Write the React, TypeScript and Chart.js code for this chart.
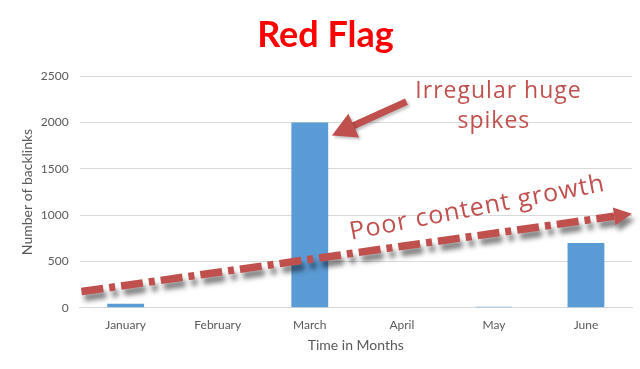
import React, { useEffect, useRef } from 'react';
import { Chart, registerables } from 'chart.js';

Chart.register(...registerables);

const months = ['January', 'February', 'March', 'April', 'May', 'June'];
const backlinks = [45, 0, 2000, 0, 12, 700];
const yMax = 2500;
const yStep = 500;
const chartTitle = 'Red Flag';
const xTitle = 'Time in Months';
const yTitle = 'Number of backlinks';
const spikeNoteLines = ['Irregular huge', 'spikes'];
const growthNote = 'Poor content growth';

// annotation anchors in data units: [category index, value]
const trendFrom = [-0.48, 175];
const trendTo = [5.5, 1015];
const spikeArrowFrom = [3.05, 2225];
const spikeArrowTo = [2.24, 1860];
const spikeNoteAt = [4.05, 2330];
const spikeNoteLine2At = [4.0, 2010];
const growthNoteAt = [3.82, 1075];

const NOTE_COLOR = '#C0504D';

const annotationPlugin = {
  id: 'redFlagNotes',
  afterDatasetsDraw(chart: any) {
    const { ctx } = chart;
    const xs = chart.scales.x;
    const ys = chart.scales.y;
    const px = (p: number[]) => [xs.getPixelForValue(p[0]), ys.getPixelForValue(p[1])];

    ctx.save();
    // trend line (dash-dot) with shadow
    const [x1, y1] = px(trendFrom);
    const [x2, y2] = px(trendTo);
    const ang = Math.atan2(y2 - y1, x2 - x1);
    const headLen = 18;
    const lx = x2 - Math.cos(ang) * headLen;
    const ly = y2 - Math.sin(ang) * headLen;
    ctx.shadowColor = 'rgba(0,0,0,0.5)';
    ctx.shadowBlur = 5;
    ctx.shadowOffsetX = 3;
    ctx.shadowOffsetY = 6;
    ctx.strokeStyle = NOTE_COLOR;
    ctx.lineWidth = 7.5;
    ctx.setLineDash([22, 6, 6, 6]);
    ctx.beginPath();
    ctx.moveTo(x1, y1);
    ctx.lineTo(lx, ly);
    ctx.stroke();
    ctx.setLineDash([]);
    // arrow head
    const hw = 9;
    ctx.fillStyle = NOTE_COLOR;
    ctx.beginPath();
    ctx.moveTo(x2, y2);
    ctx.lineTo(lx + Math.sin(ang) * hw, ly - Math.cos(ang) * hw);
    ctx.lineTo(lx - Math.sin(ang) * hw, ly + Math.cos(ang) * hw);
    ctx.closePath();
    ctx.fill();

    // spike arrow
    const [a1, b1] = px(spikeArrowFrom);
    const [a2, b2] = px(spikeArrowTo);
    const ang2 = Math.atan2(b2 - b1, a2 - a1);
    const head2 = 24;
    const ax = a2 - Math.cos(ang2) * head2;
    const ay = b2 - Math.sin(ang2) * head2;
    ctx.shadowColor = 'rgba(0,0,0,0.25)';
    ctx.shadowBlur = 3;
    ctx.shadowOffsetX = 2;
    ctx.shadowOffsetY = 2;
    ctx.lineWidth = 7;
    ctx.beginPath();
    ctx.moveTo(a1, b1);
    ctx.lineTo(ax + Math.cos(ang2) * 4, ay + Math.sin(ang2) * 4);
    ctx.stroke();
    const hw2 = 13;
    ctx.beginPath();
    ctx.moveTo(a2, b2);
    ctx.lineTo(ax + Math.sin(ang2) * hw2, ay - Math.cos(ang2) * hw2);
    ctx.lineTo(ax - Math.sin(ang2) * hw2, ay + Math.cos(ang2) * hw2);
    ctx.closePath();
    ctx.fill();

    // texts
    ctx.shadowColor = 'transparent';
    ctx.fillStyle = NOTE_COLOR;
    ctx.font = '23px "Open Sans"';
    (ctx as any).letterSpacing = '1px';
    ctx.textAlign = 'center';
    ctx.textBaseline = 'middle';
    const [t1x, t1y] = px(spikeNoteAt);
    ctx.fillText(spikeNoteLines[0], t1x, t1y);
    const [t2x, t2y] = px(spikeNoteLine2At);
    ctx.fillText(spikeNoteLines[1], t2x, t2y);

    ctx.font = '25px "Open Sans"';
    const [gx, gy] = px(growthNoteAt);
    ctx.translate(gx, gy);
    ctx.rotate(-0.19);
    ctx.fillText(growthNote, 0, 0);
    (ctx as any).letterSpacing = '0px';
    ctx.restore();
  },
};

export default function App() {
  const canvasRef = useRef<HTMLCanvasElement | null>(null);

  useEffect(() => {
    if (!canvasRef.current) return;
    const chart = new Chart(canvasRef.current, {
      type: 'bar',
      data: {
        labels: months,
        datasets: [
          {
            label: 'Backlinks',
            data: backlinks,
            backgroundColor: '#5B9BD5',
            barPercentage: 0.4,
            categoryPercentage: 1,
          },
        ],
      },
      options: {
        animation: false,
        responsive: true,
        maintainAspectRatio: false,
        layout: { padding: { left: 19, right: 8, top: 8, bottom: 15 } },
        plugins: {
          legend: { display: false },
          tooltip: { enabled: false },
          title: {
            display: true,
            text: chartTitle,
            color: '#FF0000',
            font: { family: 'Lato', size: 36, weight: 'bold' },
            padding: { top: 6, bottom: 19 },
          },
        },
        scales: {
          x: {
            grid: { display: false, drawTicks: false },
            border: { display: true, color: '#D9D9D9', width: 1 },
            ticks: { color: '#595959', font: { family: 'Lato', size: 12 }, padding: 10 },
            title: {
              display: true,
              text: xTitle,
              color: '#595959',
              font: { family: 'Lato', size: 14 },
              padding: { top: -5, bottom: 0 },
            },
          },
          y: {
            min: 0,
            max: yMax,
            grid: { color: '#D9D9D9', drawTicks: false },
            border: { display: false },
            ticks: {
              stepSize: yStep,
              color: '#595959',
              font: { family: 'Lato', size: 12 },
              padding: 11,
              callback: (v: any) => String(v),
            },
            title: {
              display: true,
              text: yTitle,
              color: '#595959',
              font: { family: 'Lato', size: 14 },
              padding: { top: 0, bottom: -6 },
            },
          },
        },
      },
      plugins: [annotationPlugin],
    });
    return () => chart.destroy();
  }, []);

  return (
    <div style={{ position: 'fixed', left: 0, top: 0, width: 640, height: 369, background: '#fff' }}>
      <canvas ref={canvasRef} />
    </div>
  );
}
